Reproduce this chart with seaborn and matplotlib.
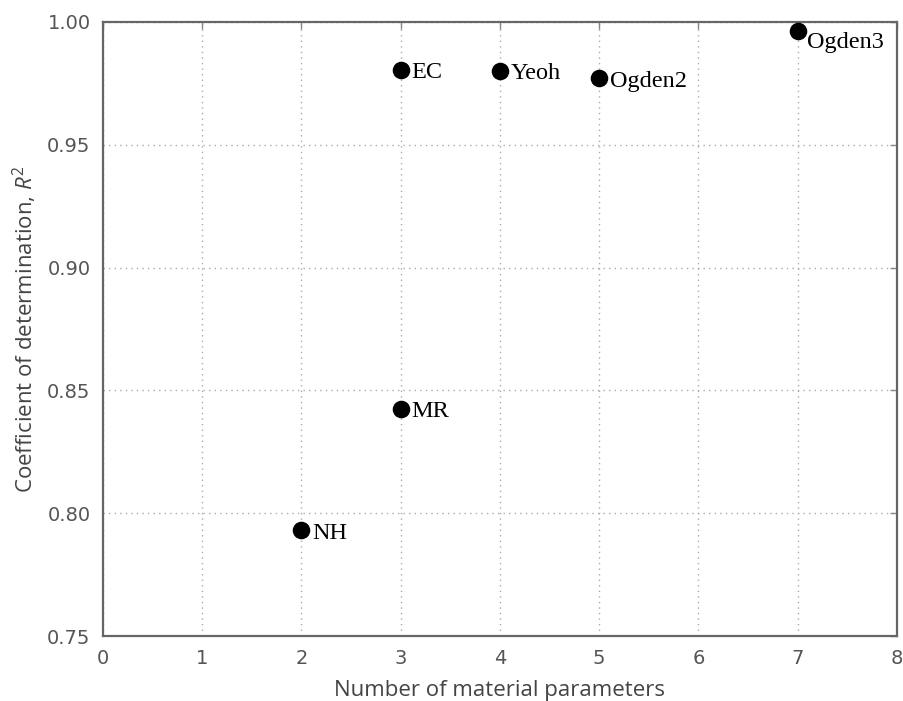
import matplotlib
matplotlib.use("Agg")
import matplotlib.pyplot as plt
import seaborn as sns
import pandas as pd

models = ["NH", "MR", "EC", "Yeoh", "Ogden2", "Ogden3"]
n_params = [2, 3, 3, 4, 5, 7]
r2 = [0.793, 0.8425, 0.9805, 0.980, 0.977, 0.9963]
x_ticks = [0, 1, 2, 3, 4, 5, 6, 7, 8]
y_ticks = [0.75, 0.80, 0.85, 0.90, 0.95, 1.00]

df = pd.DataFrame({"model": models, "n": n_params, "r2": r2})

sns.set_style("white")
plt.rcParams["font.family"] = ["DejaVu Sans"]
plt.rcParams["mathtext.fontset"] = "custom"
plt.rcParams["mathtext.rm"] = "Open Sans"
plt.rcParams["mathtext.it"] = "Open Sans:italic"

fig = plt.figure(figsize=(9.04, 7.01), dpi=100)
ax = fig.add_axes([0.114, 0.0927, 0.878, 0.876])

sns.scatterplot(data=df, x="n", y="r2", ax=ax, color="black", s=160,
                edgecolor="black", linewidth=0, clip_on=False, zorder=5)

for m, x, y in zip(models, n_params, r2):
    if m == "Ogden3":
        ax.annotate(m, (x, y), xytext=(6.5, -1), textcoords="offset points",
                    ha="left", va="top", fontsize=17.5,
                    family="Liberation Serif", color="black")
    else:
        ax.annotate(m, (x, y), xytext=(7.5, -2), textcoords="offset points",
                    ha="left", va="center", fontsize=17.5,
                    family="Liberation Serif", color="black")

ax.set_xlim(0, 8)
ax.set_ylim(0.75, 1.00)
ax.set_xticks(x_ticks)
ax.set_yticks(y_ticks)
ax.set_xticklabels([str(v) for v in x_ticks])
ax.set_yticklabels([f"{v:.2f}" for v in y_ticks])
ax.grid(True, linestyle=(0, (1, 3)), color="#aaaaaa", linewidth=1)
ax.tick_params(direction="in", top=True, right=True, length=5, width=1,
               colors="#888888", labelcolor="#555555", labelsize=14, pad=9)
for sp in ax.spines.values():
    sp.set_color("#666666")
    sp.set_linewidth(1.6)
ax.set_xlabel("Number of material parameters", fontsize=16, color="#444444",
              family="Open Sans")
ax.set_ylabel("Coefficient of determination, $R^2$", fontsize=16, color="#444444",
              family="Open Sans")
ax.xaxis.set_label_coords(0.5, -0.072)
ax.yaxis.set_label_coords(-0.081, 0.5)

fig.savefig("out.png", dpi=100)
